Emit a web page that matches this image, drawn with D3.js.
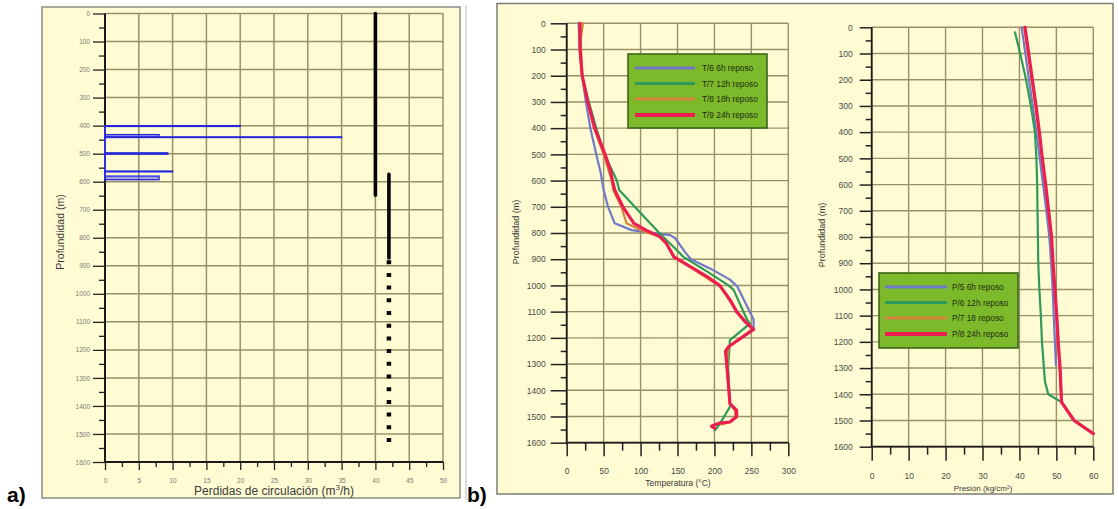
<!DOCTYPE html>
<html><head><meta charset="utf-8">
<script src="https://cdn.jsdelivr.net/npm/d3@7"></script>
<style>body{margin:0;background:#fff}svg{display:block}text{font-family:"Liberation Sans",Arial,sans-serif}</style>
</head><body><svg id="c" width="1118" height="509"></svg>
<script>
// ---------------- DATA ----------------
const depthTicks = [0,100,200,300,400,500,600,700,800,900,1000,1100,1200,1300,1400,1500,1600];
const lossTicks = [0,5,10,15,20,25,30,35,40,45,50];
const tempTicks = [0,50,100,150,200,250,300];
const presTicks = [0,10,20,30,40,50,60];

// panel a: circulation losses (depth top, depth bottom, m3/h)
const lossZones = [
  {top:400, bottom:403, value:20},
  {top:432, bottom:441, value:8},
  {top:440, bottom:442.5, value:35},
  {top:497, bottom:502, value:9.3},
  {top:562, bottom:565, value:10},
  {top:580, bottom:593, value:8}
];
// panel a: casing columns (x position, depth range, style)
const casingSegments = [
  {x:40, top:0, bottom:648, style:"solid"},
  {x:42, top:574, bottom:872, style:"solid"},
  {x:42, top:880, bottom:1556, style:"dotted"}
];

// panel b: temperature profiles [depth, °C]
const tempNames = ["T/6 6h reposo","T/7 12h reposo","T/8 18h reposo","T/9 24h reposo"];
const tempT6 = [[0,16],[100,18],[200,21],[300,26],[400,32],[500,40],[570,46],[636,50],[700,56],[763,65],[789,88],[808,140],[820,147],[872,160],[900,168],[935,194],[978,221],[1004,231],[1130,253],[1165,253],[1175,250]];
const tempT7 = [[0,17],[100,18],[200,21],[300,30],[400,40],[500,51],[600,68],[636,71],[802,126],[846,142],[891,158],[954,194],[1000,219],[1017,226],[1130,244],[1146,248],[1209,221],[1311,218.5],[1463,221],[1527,207.5],[1552,201]];
const tempT8 = [[0,22],[60,19],[200,21],[300,28],[400,37],[500,50],[600,61],[636,63],[700,74],[763,81],[795,105],[814,126],[840,135],[891,146],[980,194],[1000,207],[1100,230],[1165,252],[1234,219],[1311,217],[1451,221],[1480,228],[1500,228],[1520,222],[1530,210]];
const tempT9 = [[0,18],[100,18],[200,21],[300,28.5],[400,38],[500,52],[560,59],[600,62],[636,65],[700,76],[763,91],[790,108],[814,126],[840,135],[891,145],[966,190],[1000,207],[1054,221],[1100,230],[1137,241],[1168,253],[1234,219],[1251,215],[1311,217],[1451,221],[1476,230],[1501,230],[1521,221],[1525,207],[1537,196],[1545,200]];

// panel c: pressure profiles [depth, kg/cm2]
const presNames = ["P/5 6h reposo","P/6 12h reposo","P/7 18 reposo","P/8 24h reposo"];
const presP5 = [[0,40.6],[100,41.6],[200,42.6],[300,43.6],[400,44.6],[500,45.5],[600,46.4],[700,47.3],[800,48.1],[900,48.6],[1000,49],[1100,49.3],[1200,49.6],[1290,49.9]];
const presP6 = [[19,38.8],[100,40.2],[200,41.8],[300,43.1],[400,44.2],[500,44.6],[600,44.8],[700,44.9],[800,45],[900,45.1],[1000,45.4],[1100,45.8],[1200,46.1],[1350,46.9],[1400,47.8],[1430,51.4],[1500,54.8],[1550,60]];
const presP7 = [[0,41.3],[100,42.3],[200,43.3],[300,44.3],[400,45.2],[500,46.1],[600,47],[700,47.8],[800,48.6],[900,49],[1000,49.5],[1100,50],[1200,50.4],[1300,50.9],[1430,51.4],[1500,54.8],[1550,60]];
const presP8 = [[0,41.5],[100,42.5],[200,43.5],[300,44.5],[400,45.4],[500,46.2],[600,47.1],[700,47.9],[800,48.7],[900,49.1],[1000,49.6],[1100,50.1],[1200,50.5],[1300,51],[1430,51.4],[1500,54.8],[1550,60]];

const seriesColors = ["#7078c8","#2e9a5a","#d4843a","#ec1e50"];
const seriesWidths = [2.2,2.2,2.2,3.2];

// ---------------- DRAW ----------------
const svg = d3.select("#c");
const BG = "#fffcd4", GRIDCOLOR = "#9a9068";

// frames
svg.append("rect").attr("x",42).attr("y",7).attr("width",418).attr("height",491)
  .attr("fill",BG).attr("stroke","#8c8c84").attr("stroke-width",1.5);
svg.append("line").attr("x1",466).attr("x2",466).attr("y1",5).attr("y2",500).attr("stroke","#b8b8b8").attr("stroke-width",1);
svg.append("rect").attr("x",497).attr("y",3.5).attr("width",616).attr("height",490.5)
  .attr("fill",BG).attr("stroke","#7c7c74").attr("stroke-width",1.5);

svg.append("text").attr("x",7).attr("y",502).attr("font-size",21).attr("font-weight","bold").attr("fill","#000").text("a)");
svg.append("text").attr("x",467).attr("y",502).attr("font-size",21).attr("font-weight","bold").attr("fill","#000").text("b)");

// scales
const A = {x:d3.scaleLinear().domain([0,50]).range([105,443]), y:d3.scaleLinear().domain([0,1600]).range([13.5,462])};
const B = {x:d3.scaleLinear().domain([0,300]).range([566.7,788.3]), y:d3.scaleLinear().domain([0,1600]).range([23.3,442.7])};
const C = {x:d3.scaleLinear().domain([0,60]).range([871.7,1093.3]), y:d3.scaleLinear().domain([0,1600]).range([27.3,446.7])};
const panels = [
  {s:A, xTicks:lossTicks, gridW:1.5, yMinorLen:6, xMinorLen:5, yMajorLen:12, xMajorLen:8, yPad:3, xPad:8,
   tickW:1.3, tickFont:6.5, tickColor:"#7a7a72", axisW:2, yTitleX:64, yTitleY:232, yTitleFont:10.5},
  {s:B, xTicks:tempTicks, gridW:1.4, yMinorLen:6, xMinorLen:8, yMajorLen:16, xMajorLen:13.5, yPad:5, xPad:12,
   tickW:1.5, tickFont:8.5, tickColor:"#4a4a44", axisW:1.8, yTitleX:519, yTitleY:232, yTitleFont:9},
  {s:C, xTicks:presTicks, gridW:1.4, yMinorLen:6, xMinorLen:8, yMajorLen:12, xMajorLen:14, yPad:7, xPad:12,
   tickW:1.5, tickFont:8.5, tickColor:"#4a4a44", axisW:1.8, yTitleX:825, yTitleY:235, yTitleFont:9}
];

// grids first (same pattern as the test that rendered)
panels.forEach(p=>{
  const x = p.s.x, y = p.s.y, xr = x.range(), yr = y.range();
  svg.append("g").selectAll("line").data(p.xTicks).join("line")
    .attr("x1",d=>x(d)).attr("x2",d=>x(d)).attr("y1",yr[0]).attr("y2",yr[1])
    .attr("stroke",GRIDCOLOR).attr("stroke-width",p.gridW);
  svg.append("g").selectAll("line").data(depthTicks).join("line")
    .attr("x1",xr[0]).attr("x2",xr[1]).attr("y1",d=>y(d)).attr("y2",d=>y(d))
    .attr("stroke",GRIDCOLOR).attr("stroke-width",p.gridW);
});

// axes
panels.forEach(p=>{
  const x = p.s.x, y = p.s.y, xr = x.range(), yr = y.range();
  const yMinor = depthTicks.slice(0,-1).map(d=>d+50);
  const xMinor = p.xTicks.slice(0,-1).map((d,i)=>(d+p.xTicks[i+1])/2);
  const ax = svg.append("g");
  ax.append("g").attr("transform",`translate(${xr[0]},0)`)
    .call(d3.axisLeft(y).tickValues(yMinor).tickSize(p.yMinorLen).tickFormat(""));
  ax.append("g").attr("transform",`translate(0,${yr[1]})`)
    .call(d3.axisBottom(x).tickValues(xMinor).tickSize(p.xMinorLen).tickFormat(""));
  ax.append("g").attr("transform",`translate(${xr[0]},0)`)
    .call(d3.axisLeft(y).tickValues(depthTicks).tickSize(p.yMajorLen).tickPadding(p.yPad).tickFormat(d3.format("d")));
  ax.append("g").attr("transform",`translate(0,${yr[1]})`)
    .call(d3.axisBottom(x).tickValues(p.xTicks).tickSize(p.xMajorLen).tickPadding(p.xPad).tickFormat(d3.format("d")));
  ax.selectAll(".domain").remove();
  ax.selectAll(".tick line").attr("stroke","#222").attr("stroke-width",p.tickW);
  ax.selectAll(".tick text").attr("font-size",p.tickFont).attr("fill",p.tickColor);
  svg.append("path").attr("d",`M${xr[0]},${yr[0]}V${yr[1]}H${xr[1]}`)
    .attr("fill","none").attr("stroke","#1a1a1a").attr("stroke-width",p.axisW);
  svg.append("text").attr("transform",`translate(${p.yTitleX},${p.yTitleY}) rotate(-90)`)
    .attr("text-anchor","middle").attr("font-size",p.yTitleFont).attr("fill","#3a3a3a").text("Profundidad (m)");
});

// axis titles
const at = svg.append("text").attr("x",274).attr("y",495).attr("text-anchor","middle")
  .attr("font-size",12).attr("fill","#3a3a3a");
at.append("tspan").text("Perdidas de circulación (m");
at.append("tspan").attr("font-size",8).attr("dy",-5).text("3");
at.append("tspan").attr("dy",5).text("/h)");
svg.append("text").attr("x",678).attr("y",486).attr("text-anchor","middle").attr("font-size",8.5).attr("fill","#3a3a3a").text("Temperatura (°C)");
svg.append("text").attr("x",983).attr("y",491).attr("text-anchor","middle").attr("font-size",8).attr("fill","#3a3a3a").text("Presión (kg/cm²)");

// ---- marks ----
svg.append("line").attr("x1",A.x(0)).attr("x2",A.x(0))
  .attr("y1",A.y(d3.min(lossZones,d=>d.top))).attr("y2",A.y(d3.max(lossZones,d=>d.bottom)))
  .attr("stroke","#3030e0").attr("stroke-width",2);
svg.append("g").selectAll("rect").data(lossZones).join("rect")
  .attr("x",A.x(0)).attr("width",d=>A.x(d.value)-A.x(0))
  .attr("y",d=>A.y(d.top)).attr("height",d=>Math.max(0.1,A.y(d.bottom)-A.y(d.top)))
  .attr("fill","#5a5ae6").attr("fill-opacity",0.55).attr("stroke","#2626dc").attr("stroke-width",1.3);
svg.append("g").selectAll("line").data(casingSegments).join("line")
  .attr("x1",d=>A.x(d.x)).attr("x2",d=>A.x(d.x)).attr("y1",d=>A.y(d.top)).attr("y2",d=>A.y(d.bottom))
  .attr("stroke","#050505").attr("stroke-width",d=>d.style==="dotted"?4.5:3.6)
  .attr("stroke-linecap",d=>d.style==="dotted"?"butt":"round")
  .attr("stroke-dasharray",d=>d.style==="dotted"?"4,8.7":null);

const tLine = d3.line().x(d=>B.x(d[1])).y(d=>B.y(d[0]));
[tempT6,tempT7,tempT8,tempT9].forEach((s,i)=>{
  svg.append("path").attr("d",tLine(s)).attr("fill","none").attr("stroke",seriesColors[i])
    .attr("stroke-width",seriesWidths[i]).attr("stroke-linejoin","round").attr("stroke-linecap","round");
});
const pLine = d3.line().x(d=>C.x(d[1])).y(d=>C.y(d[0]));
[presP5,presP6,presP7,presP8].forEach((s,i)=>{
  svg.append("path").attr("d",pLine(s)).attr("fill","none").attr("stroke",seriesColors[i])
    .attr("stroke-width",seriesWidths[i]).attr("stroke-linejoin","round").attr("stroke-linecap","round");
});

// legends
function legend(x0,y0,w,h,lineX0,lineX1,textX,rows,names){
  const lg = svg.append("g");
  lg.append("rect").attr("x",x0).attr("y",y0).attr("width",w).attr("height",h)
    .attr("fill","#7cba2c").attr("stroke","#3d651c").attr("stroke-width",1.6);
  names.forEach((n,i)=>{
    lg.append("line").attr("x1",lineX0).attr("x2",lineX1).attr("y1",rows[i]).attr("y2",rows[i])
      .attr("stroke",seriesColors[i]).attr("stroke-width",seriesWidths[i]+0.6);
    lg.append("text").attr("x",textX).attr("y",rows[i]+3).attr("font-size",8.3).attr("fill","#1e2a10").text(n);
  });
}
legend(628,54,139,74,635,695,702,[68,83.5,99,115],tempNames);
legend(879,273,139,75,885,947,952,[287,302.5,318,334],presNames);
</script></body></html>
